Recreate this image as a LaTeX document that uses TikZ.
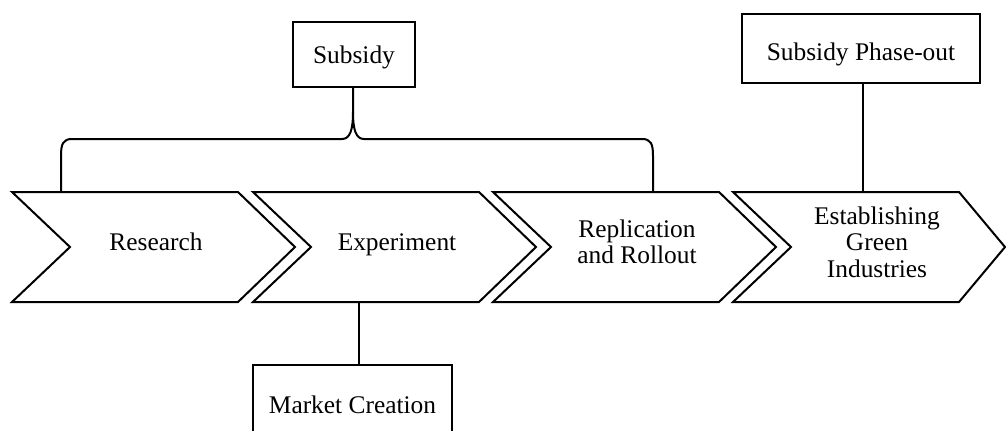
\documentclass[tikz,border=0pt]{standalone}
\usepackage{fontspec}
\setmainfont{Liberation Serif}
\begin{document}
\begin{tikzpicture}[x=0.5pt,y=-0.5pt,line width=1pt,line join=miter,
  txt/.style={font=\fontsize{12.7}{13.3}\selectfont},
  labelbox/.style={txt,draw,line width=1pt,inner sep=0pt,anchor=base},
  stagetext/.style={txt,align=center}]
\useasboundingbox (0,0) rectangle (1006,430);

% four process chevrons
\foreach \L/\n/\d in {12/research/57,253/experiment/57,493/rollout/57,733/green/46}{
  \draw (\L,192) coordinate (\n-nw) -- ++(226,0) -- ++(\d,55) -- ++(-\d,55)
        -- (\L,302) -- ++(58,-55) -- cycle;
}

\node[stagetext,anchor=base] (research)   at (156,250) {Research};
\node[stagetext,anchor=base] (experiment) at (397,250) {Experiment};
\node[stagetext] (rollout) at (637,242) {Replication\\and Rollout};
\node[stagetext] (green)   at (877,242) {Establishing\\Green\\Industries};

% policy boxes
\node[labelbox,minimum width=61pt,text height=20.5pt,text depth=12pt]
  (subsidy) at (354,63) {Subsidy};
\node[labelbox,minimum width=119pt,text height=23pt,text depth=11.5pt]
  (phaseout) at (861,60) {Subsidy Phase-out};
\node[labelbox,minimum width=99.5pt,text height=24pt,text depth=12pt]
  (market) at (352.5,413) {Market Creation};

% attachment points on the chevrons
\coordinate (research-foot)   at (61,192);
\coordinate (rollout-foot)    at (653,192);
\coordinate (experiment-foot) at (359,302);
\coordinate (green-foot)      at (863,192);

% brace joining the subsidy to the first three stages
\draw (research-foot) -- (61,156) .. controls (61,144) and (63,139) .. (72,139)
      -- (342,139) .. controls (350,139) and (353,130) .. (353,112) -- (subsidy.south -| 353,0);
\draw (rollout-foot) -- (653,156) .. controls (653,144) and (651,139) .. (642,139)
      -- (364,139) .. controls (356,139) and (353,130) .. (353,112);

% stems
\draw (experiment-foot) -- (experiment-foot |- market.north);
\draw (green-foot) -- (green-foot |- phaseout.south);
\end{tikzpicture}
\end{document}
